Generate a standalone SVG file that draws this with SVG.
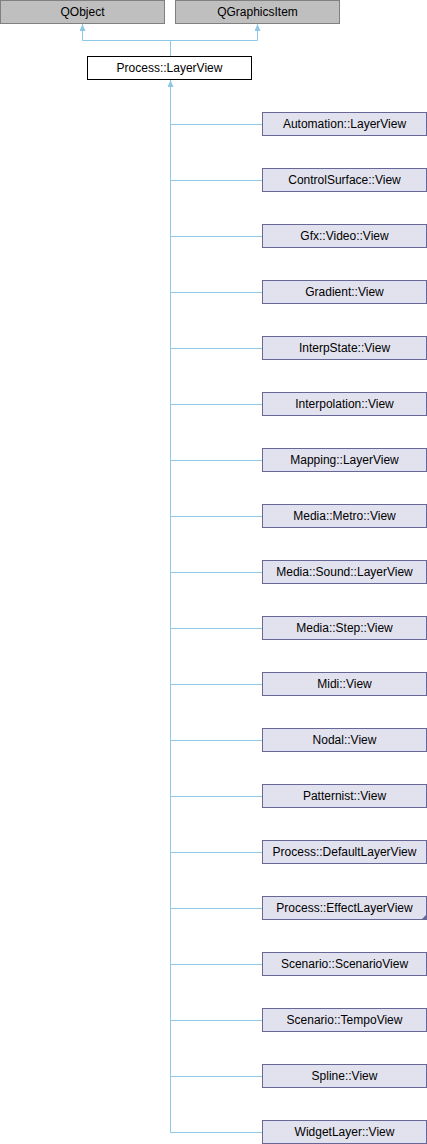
<svg xmlns="http://www.w3.org/2000/svg" width="427" height="1144" viewBox="0 0 427 1144">
<style>
.ext rect{fill:#bfbfbf;stroke:#808080;stroke-width:1}
.base rect{fill:#ffffff;stroke:#000000;stroke-width:1}
.cls rect{fill:#e2e2ef;stroke:#666699;stroke-width:1}
text{font-family:"Liberation Sans",Arial,sans-serif;font-size:12px;fill:#000;text-anchor:middle}
.edges path{fill:none;stroke:#8ec8e8;stroke-width:1}
</style>
<defs>
<marker id="ah" markerWidth="7" markerHeight="6" refX="7" refY="3" orient="auto-start-reverse" markerUnits="userSpaceOnUse" viewBox="0 0 7 6">
<path d="M0,0 L7,3 L0,6 Z" fill="#8ec8e8"/>
</marker>
</defs>
<g class="edges">
<path d="M82.5,24 V40.5 H257.5 V24" marker-start="url(#ah)" marker-end="url(#ah)"/>
<path d="M170.5,40.5 V56"/>
<path d="M170.5,80 V1132.5 H263" marker-start="url(#ah)"/>
<path d="M170.5,124.5 H263"/>
<path d="M170.5,180.5 H263"/>
<path d="M170.5,236.5 H263"/>
<path d="M170.5,292.5 H263"/>
<path d="M170.5,348.5 H263"/>
<path d="M170.5,404.5 H263"/>
<path d="M170.5,460.5 H263"/>
<path d="M170.5,516.5 H263"/>
<path d="M170.5,572.5 H263"/>
<path d="M170.5,628.5 H263"/>
<path d="M170.5,684.5 H263"/>
<path d="M170.5,740.5 H263"/>
<path d="M170.5,796.5 H263"/>
<path d="M170.5,852.5 H263"/>
<path d="M170.5,908.5 H263"/>
<path d="M170.5,964.5 H263"/>
<path d="M170.5,1020.5 H263"/>
<path d="M170.5,1076.5 H263"/>
</g>
<g id="QObject" class="ext"><rect x="0.5" y="0.5" width="164" height="23"/><text x="82.5" y="16">QObject</text></g>
<g id="QGraphicsItem" class="ext"><rect x="175.5" y="0.5" width="164" height="23"/><text x="257.5" y="16">QGraphicsItem</text></g>
<g id="Process_LayerView" class="base"><rect x="87.5" y="56.5" width="164" height="23"/><text x="169.5" y="72">Process::LayerView</text></g>
<g id="Automation_LayerView" class="cls"><rect x="262.5" y="112.5" width="164" height="23"/><text x="344.5" y="128">Automation::LayerView</text></g>
<g id="ControlSurface_View" class="cls"><rect x="262.5" y="168.5" width="164" height="23"/><text x="344.5" y="184">ControlSurface::View</text></g>
<g id="Gfx_Video_View" class="cls"><rect x="262.5" y="224.5" width="164" height="23"/><text x="344.5" y="240">Gfx::Video::View</text></g>
<g id="Gradient_View" class="cls"><rect x="262.5" y="280.5" width="164" height="23"/><text x="344.5" y="296">Gradient::View</text></g>
<g id="InterpState_View" class="cls"><rect x="262.5" y="336.5" width="164" height="23"/><text x="344.5" y="352">InterpState::View</text></g>
<g id="Interpolation_View" class="cls"><rect x="262.5" y="392.5" width="164" height="23"/><text x="344.5" y="408">Interpolation::View</text></g>
<g id="Mapping_LayerView" class="cls"><rect x="262.5" y="448.5" width="164" height="23"/><text x="344.5" y="464">Mapping::LayerView</text></g>
<g id="Media_Metro_View" class="cls"><rect x="262.5" y="504.5" width="164" height="23"/><text x="344.5" y="520">Media::Metro::View</text></g>
<g id="Media_Sound_LayerView" class="cls"><rect x="262.5" y="560.5" width="164" height="23"/><text x="344.5" y="576">Media::Sound::LayerView</text></g>
<g id="Media_Step_View" class="cls"><rect x="262.5" y="616.5" width="164" height="23"/><text x="344.5" y="632">Media::Step::View</text></g>
<g id="Midi_View" class="cls"><rect x="262.5" y="672.5" width="164" height="23"/><text x="344.5" y="688">Midi::View</text></g>
<g id="Nodal_View" class="cls"><rect x="262.5" y="728.5" width="164" height="23"/><text x="344.5" y="744">Nodal::View</text></g>
<g id="Patternist_View" class="cls"><rect x="262.5" y="784.5" width="164" height="23"/><text x="344.5" y="800">Patternist::View</text></g>
<g id="Process_DefaultLayerView" class="cls"><rect x="262.5" y="840.5" width="164" height="23"/><text x="344.5" y="856">Process::DefaultLayerView</text></g>
<g id="Process_EffectLayerView" class="cls"><rect x="262.5" y="896.5" width="164" height="23"/><text x="344.5" y="912">Process::EffectLayerView</text><path d="M421,920 L427,914 L427,920 Z" fill="#666699"/></g>
<g id="Scenario_ScenarioView" class="cls"><rect x="262.5" y="952.5" width="164" height="23"/><text x="344.5" y="968">Scenario::ScenarioView</text></g>
<g id="Scenario_TempoView" class="cls"><rect x="262.5" y="1008.5" width="164" height="23"/><text x="344.5" y="1024">Scenario::TempoView</text></g>
<g id="Spline_View" class="cls"><rect x="262.5" y="1064.5" width="164" height="23"/><text x="344.5" y="1080">Spline::View</text></g>
<g id="WidgetLayer_View" class="cls"><rect x="262.5" y="1120.5" width="164" height="23"/><text x="344.5" y="1136">WidgetLayer::View</text></g>
</svg>
